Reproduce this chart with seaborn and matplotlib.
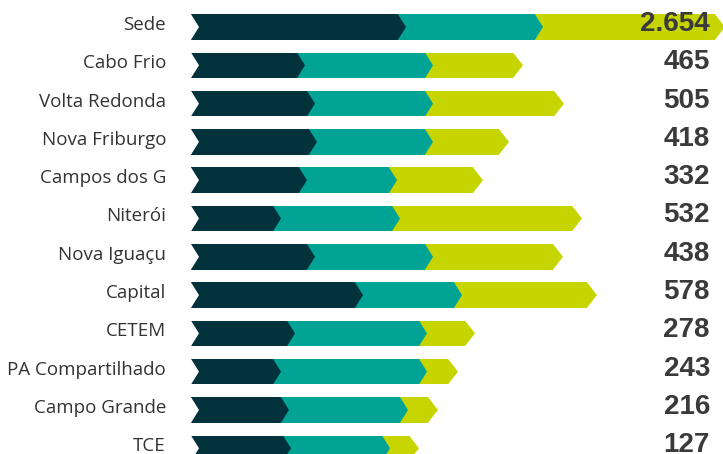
import numpy as np
import pandas as pd
import matplotlib
matplotlib.use("Agg")
import matplotlib.pyplot as plt
import matplotlib.transforms as mtransforms
import seaborn as sns

# Units and their three segment lengths (arbitrary units)
units = ["Sede", "Cabo Frio", "Volta Redonda", "Nova Friburgo", "Campos dos G",
         "Niterói", "Nova Iguaçu", "Capital", "CETEM", "PA Compartilhado",
         "Campo Grande", "TCE"]
seg_dark = [207, 106, 116, 118, 108, 82, 116, 164, 96, 82, 90, 92]
seg_teal = [137, 128, 118, 116, 90, 119, 118, 99, 132, 146, 119, 99]
seg_yellow = [180, 88, 129, 74, 84, 180, 128, 133, 46, 29, 28, 27]
totals = ["2.654", "465", "505", "418", "332", "532", "438", "578",
          "278", "243", "216", "127"]

DARK = "#02333c"
TEAL = "#00a394"
YELLOW = "#c6d400"

sns.set_style("white")
plt.rcParams["font.family"] = ["Open Sans", "DejaVu Sans"]

df = pd.DataFrame({"unit": units, "dark": seg_dark, "teal": seg_teal, "yellow": seg_yellow})
df["cum_teal"] = df["dark"] + df["teal"]
df["cum_yellow"] = df["cum_teal"] + df["yellow"]

fig = plt.figure(figsize=(7.23, 4.54), dpi=100)
ax = fig.add_axes([191 / 723, 0, 532 / 723, 1])

h = 0.666
# stacked bars: draw the longest first, shorter ones on top
sns.barplot(data=df, y="unit", x="cum_yellow", color=YELLOW, orient="h",
            width=h, saturation=1, linewidth=0, ax=ax)
sns.barplot(data=df, y="unit", x="cum_teal", color=TEAL, orient="h",
            width=h, saturation=1, linewidth=0, ax=ax)
sns.barplot(data=df, y="unit", x="dark", color=DARK, orient="h",
            width=h, saturation=1, linewidth=0, ax=ax)

# chevron points at each segment boundary and notch at the start
d = 8
tip = 10
for i, row in df.iterrows():
    top, mid, bot = i - h / 2, i, i + h / 2
    ax.fill([0, d, 0], [top, mid, bot], color="white", lw=0, zorder=3)
    ax.fill([row["dark"], row["dark"] + d, row["dark"]], [top, mid, bot],
            color=DARK, lw=0, zorder=3)
    ax.fill([row["cum_teal"], row["cum_teal"] + d, row["cum_teal"]], [top, mid, bot],
            color=TEAL, lw=0, zorder=3)
    ax.fill([row["cum_yellow"], row["cum_yellow"] + tip, row["cum_yellow"]], [top, mid, bot],
            color=YELLOW, lw=0, zorder=3)
    ax.text(519, i - 0.08, totals[i], ha="right", va="center", fontsize=20,
            fontweight="bold", color="#3a3a3a", zorder=4,
            family=["Liberation Sans Narrow", "Liberation Sans", "DejaVu Sans"])

ax.set_xlim(0, 532)
ax.set_ylim(11.15, -0.705)
ax.set_xlabel("")
ax.set_ylabel("")
ax.set_xticks([])
ax.tick_params(axis="y", length=0, pad=18, labelsize=13.5, labelcolor="#333333")
# labels sit a little above the bar centres
shift = mtransforms.ScaledTranslation(0, 4 / 100, fig.dpi_scale_trans)
for lab in ax.get_yticklabels():
    lab.set_transform(lab.get_transform() + shift)
sns.despine(ax=ax, left=True, bottom=True)

fig.savefig("out.png", dpi=100)
